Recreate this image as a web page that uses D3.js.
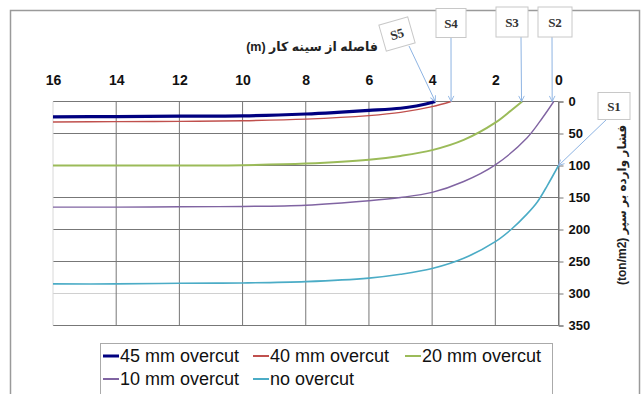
<!DOCTYPE html>
<html><head><meta charset="utf-8">
<script src="https://cdn.jsdelivr.net/npm/d3@7"></script>
<style>body{margin:0;background:#fff}svg{display:block}</style>
</head><body>
<script>
// ---- data ----
const xTicks = [16,14,12,10,8,6,4,2,0];
const yTicks = [0,50,100,150,200,250,300,350];
const seriesNames = ["45 mm overcut","40 mm overcut","20 mm overcut","10 mm overcut","no overcut"];
const seriesColors = ["#000080","#c0504d","#9bbb59","#8064a2","#4bacc6"];
const seriesWidths = [3.2,1.4,2,1.4,1.6];
const s45 = [[16,24],[14,23.5],[12,23],[10,22.5],[8,19.5],[7,17],[6,14],[5,10.5],[4.5,7],[4.2,4],[3.9,0]];
const s40 = [[16,32],[14,31.5],[12,31],[10,30],[8,27.5],[6,22],[5,17],[4,8],[3.4,0]];
const s20 = [[16,100],[14,100],[12,100],[10,99.5],[8,97],[6,91],[5,85],[4,76],[3,60],[2,33],[1.5,14],[1.15,0]];
const s10 = [[16,165],[14,165],[12,164.5],[10,164],[8,162],[6,155],[5,150],[4,142],[3,125],[2,99],[1,57],[0.5,25],[0.15,0]];
const s0  = [[16,285],[14,285],[12,284],[10,283.5],[8,281.5],[6,276],[5,270],[4,261],[3,245],[2,219],[1.5,200],[1,176],[0.67,157],[0.35,131],[0,100]];
const seriesData = [s45,s40,s20,s10,s0];
// callouts: label, target distance, target pressure
const calloutLabels = ["S1","S2","S3","S4","S5"];
const calloutTargets = [[0,100],[0.2,0],[1.17,0],[3.4,0],[3.9,0]];

const W=644,H=394;
const svg=d3.select("body").append("svg").attr("width",W).attr("height",H);
const x=d3.scaleLinear().domain([16,0]).range([53,558.5]);
const y=d3.scaleLinear().domain([0,350]).range([101.5,325.5]);

// outer border
svg.append("rect").attr("x",10.5).attr("y",10.5).attr("width",629).attr("height",400)
  .attr("fill","none").attr("stroke","#9a9a9a").attr("stroke-width",1.5);

// grid
const g=svg.append("g");
g.selectAll(".hg").data(yTicks).join("line")
  .attr("x1",x(16)).attr("x2",x(0)).attr("y1",d=>y(d)).attr("y2",d=>y(d))
  .attr("stroke",d=>d===300?"#d0d0d0":"#777").attr("stroke-width",1);
g.selectAll(".vg").data(xTicks).join("line")
  .attr("x1",d=>x(d)).attr("x2",d=>x(d)).attr("y1",y(0)).attr("y2",y(350))
  .attr("stroke",d=>d===16?"#d8d8d8":"#777").attr("stroke-width",1);

// right axis
const ya=d3.axisRight(y).tickValues(yTicks).tickSize(5).tickPadding(5);
const yg=svg.append("g").attr("transform",`translate(${x(0)},0)`).call(ya);
yg.select(".domain").attr("stroke","#777");
yg.selectAll(".tick line").attr("stroke","#777");
yg.selectAll("text").attr("font-family","Liberation Sans, Arial, sans-serif")
  .attr("font-size",13).attr("font-weight","bold").attr("fill","#111");

// top axis labels
const xa=d3.axisTop(x).tickValues(xTicks).tickSize(0).tickPadding(0);
const xg=svg.append("g").attr("transform","translate(0,85)").call(xa);
xg.select(".domain").remove();
xg.selectAll("text").attr("font-family","Liberation Sans, Arial, sans-serif")
  .attr("font-size",14).attr("font-weight","bold").attr("fill","#111");

// lines
const line=d3.line().x(d=>x(d[0])).y(d=>y(d[1])).curve(d3.curveCatmullRom.alpha(0.5));
svg.selectAll(".series").data(seriesData.map((d,i)=>({d,i})).reverse()).join("path")
  .attr("d",o=>line(o.d)).attr("fill","none")
  .attr("stroke",o=>seriesColors[o.i]).attr("stroke-width",o=>seriesWidths[o.i]);

// axis titles
svg.append("text").attr("x",312).attr("y",51).attr("text-anchor","middle")
  .attr("font-family","Liberation Sans, DejaVu Sans, sans-serif").attr("font-size",12.5).attr("font-weight","bold")
  .attr("fill","#222").text("(m) فاصله از سینه کار");
svg.append("text").attr("transform","translate(626,205) rotate(-90)").attr("text-anchor","middle")
  .attr("font-family","Liberation Sans, DejaVu Sans, sans-serif").attr("font-size",12).attr("font-weight","bold")
  .attr("fill","#222").text("(ton/m2) فشار وارده بر سپر");

// callouts
const defs=svg.append("defs");
defs.append("marker").attr("id","arr").attr("viewBox","0 0 10 10").attr("refX",9).attr("refY",5)
  .attr("markerWidth",7).attr("markerHeight",7).attr("orient","auto")
  .append("path").attr("d","M1,1 L9,5 L1,9").attr("fill","none").attr("stroke","#8eb4e3").attr("stroke-width",1.3);
const boxes=[
  {cx:614,cy:106,w:32,h:27,rot:0,sx:607,sy:119},
  {cx:555,cy:22,w:34,h:30,rot:0,sx:552,sy:37},
  {cx:512,cy:22,w:32,h:30,rot:0,sx:521,sy:37},
  {cx:451,cy:23,w:30,h:29,rot:0,sx:451,sy:38},
  {cx:397,cy:34,w:30,h:27,rot:-16,sx:409,sy:46}
];
boxes.forEach((b,i)=>{
  const t=calloutTargets[i];
  svg.append("line").attr("x1",b.sx).attr("y1",b.sy).attr("x2",x(t[0])).attr("y2",y(t[1]))
    .attr("stroke","#8eb4e3").attr("stroke-width",1).attr("marker-end","url(#arr)");
  const bg=svg.append("g").attr("transform",`translate(${b.cx},${b.cy}) rotate(${b.rot})`);
  bg.append("rect").attr("x",-b.w/2).attr("y",-b.h/2).attr("width",b.w).attr("height",b.h)
    .attr("fill","#fff").attr("stroke","#c8c8c8").attr("stroke-width",1);
  bg.append("text").attr("text-anchor","middle").attr("dy","0.35em")
    .attr("font-family","Liberation Serif, Times New Roman, serif").attr("font-size",13).attr("font-weight","bold")
    .attr("fill","#333").text(calloutLabels[i]);
});

// legend
svg.append("rect").attr("x",100.5).attr("y",343.5).attr("width",452).attr("height",60)
  .attr("fill","#fff").attr("stroke","#aaa").attr("stroke-width",1);
const legPos=[[103,356],[253,356],[405,356],[103,379],[253,379]];
seriesNames.forEach((n,i)=>{
  const [lx,ly]=legPos[i];
  svg.append("line").attr("x1",lx).attr("x2",lx+16).attr("y1",ly).attr("y2",ly)
    .attr("stroke",seriesColors[i]).attr("stroke-width",i===0?3:2);
  svg.append("text").attr("x",lx+17).attr("y",ly).attr("dy","0.35em")
    .attr("font-family","Liberation Sans, Arial, sans-serif").attr("font-size",18).attr("fill","#111").text(n);
});
</script>
</body></html>
